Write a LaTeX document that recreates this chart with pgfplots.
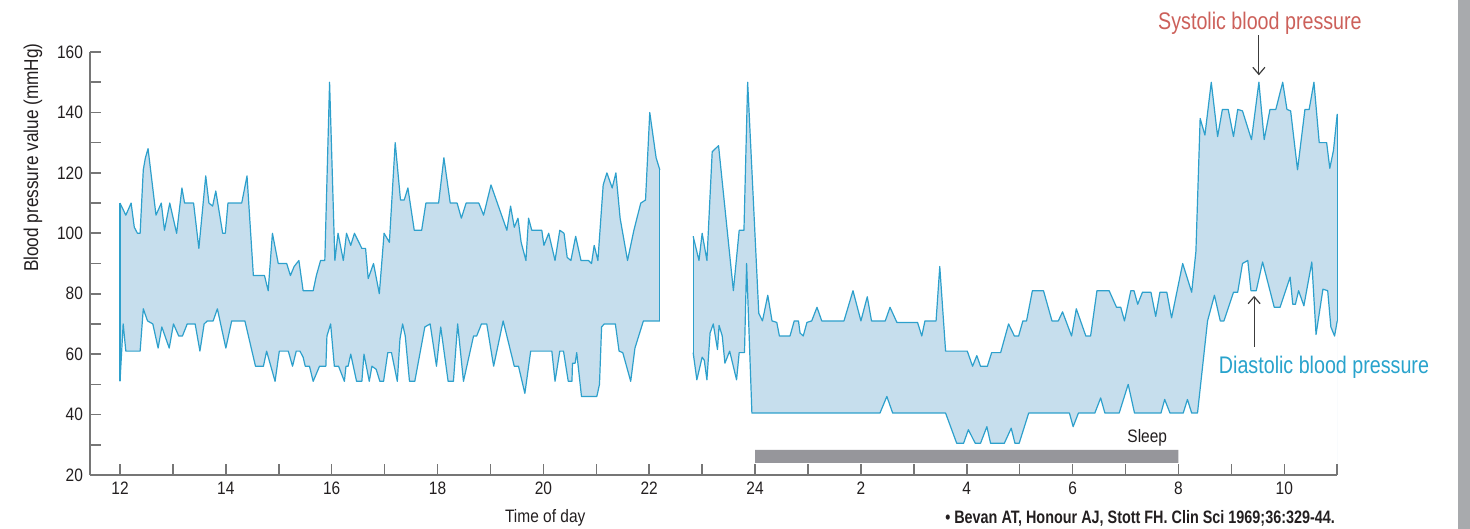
\documentclass[border=0pt]{standalone}
\usepackage{fontspec}
\setmainfont{Liberation Sans}[FakeStretch=0.86]
\newfontfamily\annofont{Liberation Sans}[FakeStretch=0.82]
\newfontfamily\citefont{Liberation Sans}[FakeStretch=0.8]
\usepackage{pgfplots}
\usepackage{pgfplotstable}
\pgfplotsset{compat=1.18}
\usetikzlibrary{arrows.meta}

\definecolor{bpline}{RGB}{45,160,204}
\definecolor{bpfill}{RGB}{198,222,237}
\definecolor{axisgray}{RGB}{118,118,118}
\definecolor{sleepgray}{RGB}{150,150,155}
\definecolor{sysred}{RGB}{204,96,90}
\definecolor{diablue}{RGB}{41,163,204}
\definecolor{edgegray}{RGB}{168,170,173}
\definecolor{txt}{RGB}{35,31,32}
\definecolor{arrowgray}{RGB}{60,60,60}

% hours run on past midnight: 24 = midnight, 35 = 11 next morning
\pgfplotstableread{
t v
12.00 110
12.11 106
12.21 110
12.27 102
12.33 100
12.38 100
12.44 121
12.48 125
12.53 128
12.68 106
12.78 110
12.84 101
12.94 110
13.07 100
13.17 115
13.22 110
13.39 110
13.49 95
13.62 119
13.68 110
13.75 109
13.81 114
13.94 100
13.99 100
14.04 110
14.30 110
14.40 119
14.52 86
14.73 86
14.80 81
14.88 100
14.99 90
15.15 90
15.22 86
15.29 89
15.38 91
15.46 81
15.65 81
15.71 86
15.79 91
15.87 91
15.96 150
16.06 91
16.12 100
16.22 91
16.28 100
16.36 96
16.43 100
16.57 95
16.64 95
16.69 85
16.79 90
16.90 80
16.99 100
17.09 97
17.20 130
17.30 111
17.37 111
17.44 115
17.56 101
17.70 101
17.78 110
18.02 110
18.12 125
18.24 110
18.37 110
18.45 105
18.54 110
18.78 110
18.87 106
19.01 116
19.31 101
19.38 109
19.45 102
19.52 105
19.58 97
19.67 91
19.72 105
19.78 101
19.97 101
20.01 96
20.10 100
20.22 91
20.31 101
20.39 100
20.45 92
20.52 91
20.61 99
20.71 91
20.85 91
20.91 90
20.96 96
21.03 91
21.13 116
21.20 120
21.30 115
21.37 120
21.45 105
21.59 91
21.71 101
21.84 110
21.93 111
22.01 140
22.13 125
22.20 121
}\sysA

\pgfplotstableread{
t v
12.00 51
12.06 70
12.11 61
12.38 61
12.44 75
12.52 71
12.62 70
12.72 62
12.79 69
12.93 62
13.01 70
13.11 66
13.18 66
13.27 70
13.42 70
13.51 61
13.59 70
13.65 71
13.76 71
13.84 75
14.00 62
14.11 71
14.36 71
14.56 56
14.71 56
14.77 61
14.93 51
15.01 61
15.18 61
15.26 56
15.33 61
15.40 61
15.46 59
15.50 56
15.58 56
15.65 51
15.77 56
15.89 56
15.91 66
15.98 70
16.05 56
16.13 56
16.24 51
16.27 56
16.31 56
16.36 60
16.47 51
16.57 51
16.61 60
16.71 51
16.76 56
16.84 55
16.91 51
16.98 51
17.06 60.5
17.13 60.5
17.24 51
17.29 65
17.34 70
17.39 66
17.47 51
17.57 51
17.76 69
17.86 70
17.98 56
18.06 69
18.20 51
18.30 51
18.38 70
18.49 51
18.68 66
18.74 66
18.83 70
18.93 70
19.06 56
19.24 71
19.45 56
19.53 56
19.65 47
19.76 61
20.16 61
20.22 51
20.31 61
20.38 61
20.47 51
20.54 51
20.55 57
20.60 57
20.63 60.5
20.72 46
21.01 46
21.06 50
21.10 69
21.15 70
21.36 70
21.43 61
21.50 60.5
21.65 51
21.73 62
21.89 71
22.20 71
}\diaA

\pgfplotstableread{
t v
22.83 99
22.94 91
23.00 100
23.09 91
23.19 127
23.31 129
23.59 81
23.70 101
23.79 101
23.86 150
24.07 73.5
24.14 71
24.24 79.5
24.32 71
24.41 70.5
24.46 66
24.66 66
24.74 71
24.82 71
24.85 67
24.91 66
24.98 70.5
25.07 71
25.17 75.5
25.26 71
25.68 71
25.85 81
26.00 71
26.12 79
26.20 71
26.46 71
26.55 75.5
26.68 70.5
27.07 70.5
27.15 66
27.21 71
27.42 71
27.49 89
27.60 61
28.01 61
28.11 56
28.19 59.5
28.26 56
28.39 56
28.47 60.5
28.64 60.5
28.79 70
28.90 66
28.98 66
29.06 71
29.13 71
29.24 81
29.45 81
29.61 71
29.73 71
29.81 74
29.98 66
30.07 75
30.25 66
30.34 66
30.46 81
30.69 81
30.83 75.5
30.91 75.5
30.98 71
31.10 81
31.16 81
31.23 76.5
31.32 80.5
31.48 80.5
31.57 72.5
31.65 80.5
31.78 80.5
31.87 72
32.08 90
32.25 80.5
32.33 94
32.41 138
32.50 132.5
32.62 150
32.74 132
32.83 141
32.94 141
33.04 132
33.12 141
33.21 140.5
33.38 131
33.52 150
33.62 131
33.73 141
33.84 141
33.97 150
34.05 141
34.12 140.5
34.25 121
34.39 141
34.47 141
34.56 150
34.66 130
34.80 130
34.86 121.5
34.93 127.5
35.00 139.5
}\sysB

\pgfplotstableread{
t v
22.83 60.5
22.90 51.5
23.00 59
23.04 58
23.09 51.5
23.15 67
23.21 70
23.29 61.5
23.32 69.5
23.38 66
23.43 57
23.52 61
23.65 51.5
23.70 60.5
23.80 60.5
23.84 90
23.94 40.5
26.36 40.5
26.49 46
26.60 40.5
27.60 40.5
27.81 30.5
27.94 30.5
28.03 35
28.16 30.5
28.26 30.5
28.38 36
28.45 30.5
28.71 30.5
28.84 35.5
28.91 30.5
28.99 30.5
29.17 40.5
29.94 40.5
30.01 36
30.11 40.5
30.42 40.5
30.53 45.5
30.61 40.5
30.88 40.5
31.05 50
31.17 40.5
31.67 40.5
31.74 45
31.84 40.5
32.09 40.5
32.17 45
32.25 40.5
32.36 40.5
32.55 71
32.68 79.5
32.79 71
32.86 71
33.04 80.5
33.12 80.5
33.21 90
33.31 91
33.37 81
33.47 81
33.59 90.5
33.81 75.5
33.92 75.5
34.11 85.5
34.16 76.5
34.21 76.5
34.27 81
34.37 76
34.52 90.5
34.60 66.5
34.73 81.5
34.82 81
34.88 69
34.95 66
35.00 71
}\diaB

\begin{document}
\begin{tikzpicture}
\path[use as bounding box] (0,0) rectangle (735pt,264.5pt);
\begin{axis}[
  scale only axis,
  width=623.6pt, height=211.5pt,
  at={(45pt,27pt)}, anchor=south west,
  xmin=11.433, xmax=35, ymin=20, ymax=160,
  axis x line=bottom, axis y line=left,
  axis line style={-, draw=axisgray, line width=1pt},
  axis on top,
  tick align=inside,
  major tick length=5.4pt,
  tick style={draw=axisgray, line width=0.8pt},
  xtick={12,...,35},
  xticklabels={12,,14,,16,,18,,20,,22,,24,,2,,4,,6,,8,,10,},
  ytick={20,30,...,160},
  yticklabels={20,,40,,60,,80,,100,,120,,140,,160},
  ticklabel style={font=\fontsize{9}{10}\selectfont, text=txt},
  xlabel={Time of day},
  ylabel={Blood pressure value (mmHg)},
  xlabel style={at={(axis description cs:0.365,-0.102)}, anchor=center,
    font=\fontsize{9}{10}\selectfont, text=txt},
  ylabel style={at={(axis description cs:-0.0457,0.75)}, anchor=center,
    font=\fontsize{10}{11}\selectfont, text=txt},
  clip=false,
]
% band: light blue down to the axis under systolic, white back over it under diastolic
\addplot[fill=bpfill, draw=none] table[x=t, y=v] {\sysA} -- (axis cs:22.20,20) -- (axis cs:12,20) -- cycle;
\addplot[fill=bpfill, draw=none] table[x=t, y=v] {\sysB} -- (axis cs:35,20) -- (axis cs:22.83,20) -- cycle;
\addplot[fill=white, draw=none] table[x=t, y=v] {\diaA} -- (axis cs:22.20,20) -- (axis cs:12,20) -- cycle;
\addplot[fill=white, draw=none] table[x=t, y=v] {\diaB} -- (axis cs:35,20) -- (axis cs:22.83,20) -- cycle;

\addplot[draw=none, fill=sleepgray] coordinates {(24,24) (32,24) (32,28.3) (24,28.3) (24,24)};

\addplot[bpline, line width=0.6pt, line join=round] table[x=t, y=v] {\sysA};
\addplot[bpline, line width=0.6pt, line join=round] table[x=t, y=v] {\diaA};
\addplot[bpline, line width=0.6pt, line join=round] table[x=t, y=v] {\sysB};
\addplot[bpline, line width=0.6pt, line join=round] table[x=t, y=v] {\diaB};
% closing edges of the band
\addplot[bpline, line width=0.6pt] coordinates {(12,51) (12,110)};
\addplot[bpline, line width=0.6pt] coordinates {(22.20,71) (22.20,121)};
\addplot[bpline, line width=0.6pt] coordinates {(22.83,60.5) (22.83,99)};
\addplot[bpline, line width=0.6pt] coordinates {(35,71) (35,139.5)};

\node[font=\fontsize{9}{10}\selectfont, text=txt] at (axis cs:31.41,32.25) {Sleep};
\node[font=\annofont\fontsize{12}{14}\selectfont, text=sysred] at (axis cs:33.54,169.6) {Systolic blood pressure};
\node[font=\annofont\fontsize{12}{14}\selectfont, text=diablue] at (axis cs:34.75,55.6) {Diastolic blood pressure};
\draw[-{Straight Barb[length=3.5pt, width=6pt]}, arrowgray, line width=0.6pt] (axis cs:33.52,165.6) -- (axis cs:33.52,152.3);
\draw[-{Straight Barb[length=3.5pt, width=6pt]}, arrowgray, line width=0.6pt] (axis cs:33.43,62.5) -- (axis cs:33.43,79.3);
\end{axis}
\fill[edgegray] (729pt,0) rectangle (735pt,264.5pt);
\node[anchor=east, font=\citefont\bfseries\fontsize{9}{10}\selectfont, text=txt] at (671pt,5.5pt) {• Bevan AT, Honour AJ, Stott FH. Clin Sci 1969;36:329-44.};
\end{tikzpicture}
\end{document}
